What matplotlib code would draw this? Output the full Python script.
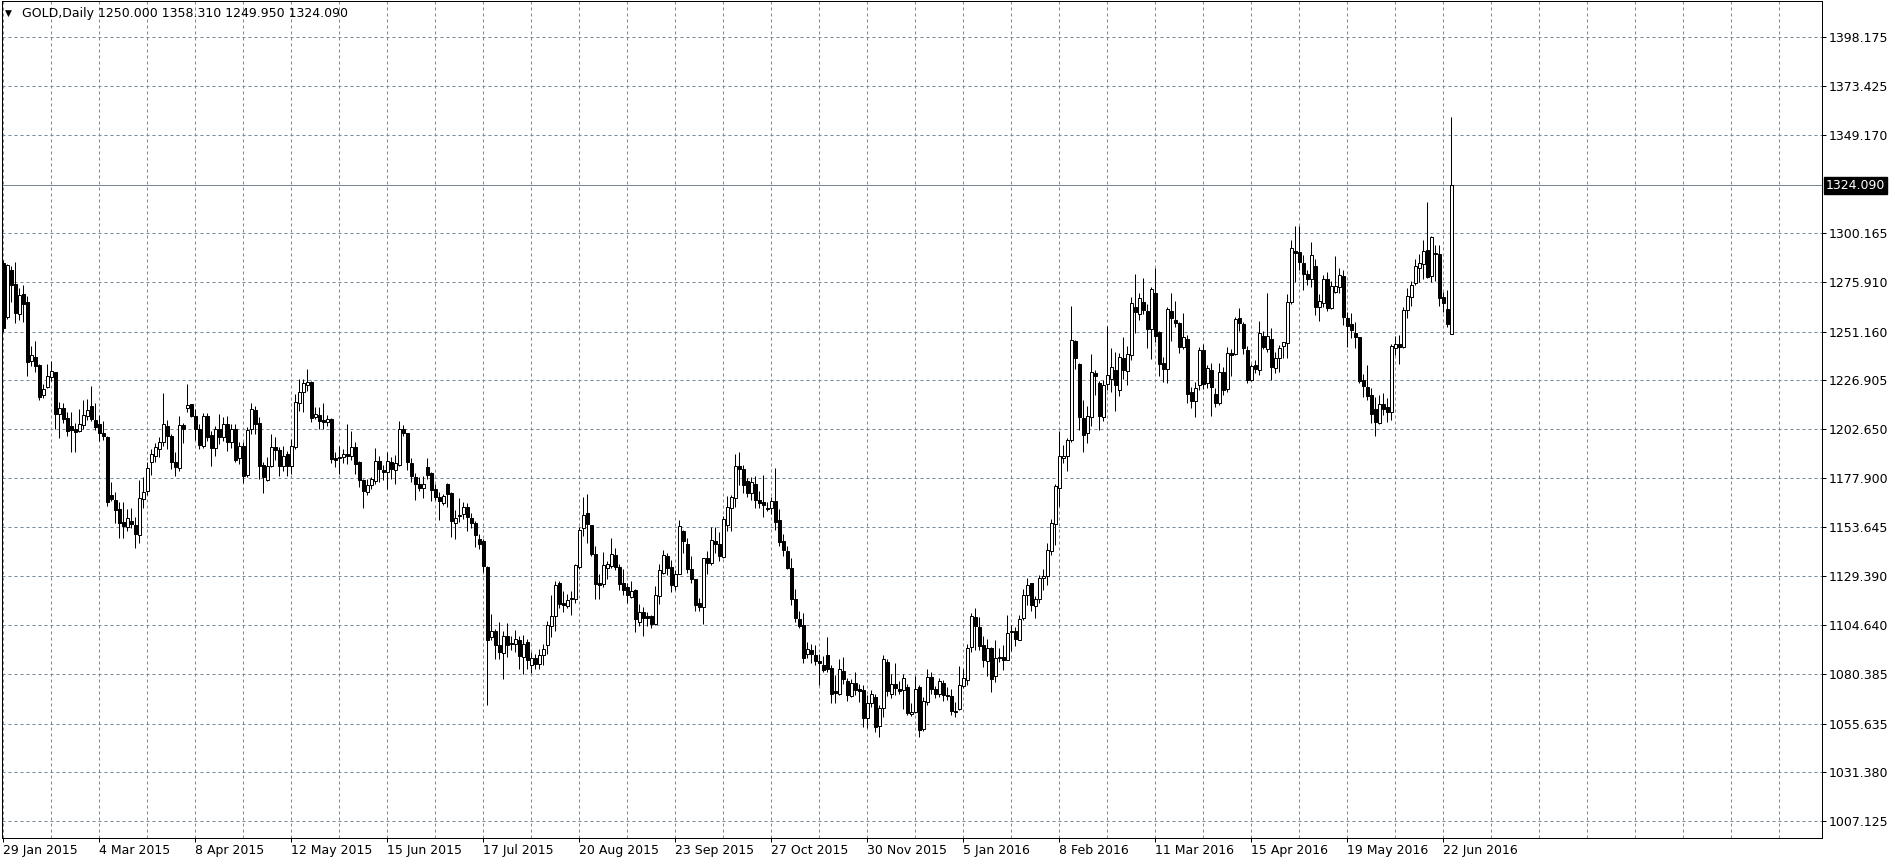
import numpy as np
import matplotlib
matplotlib.use('Agg')
import matplotlib.pyplot as plt

# daily GOLD candles, 29 Jan 2015 .. 24 Jun 2016
OPEN = [
    1285.6, 1258.6, 1282.0, 1275.1, 1260.1, 1270.0, 1266.0, 1236.6, 1238.3, 1234.7, 1219.3, 1223.4,
    1228.4, 1230.9, 1210.2, 1213.2, 1207.8, 1204.0, 1202.8, 1201.7, 1204.4, 1209.1, 1214.0, 1206.9,
    1204.8, 1200.8, 1198.4, 1169.8, 1167.0, 1162.4, 1156.0, 1153.8, 1156.8, 1154.8, 1149.7, 1167.5,
    1171.5, 1186.3, 1189.3, 1192.6, 1195.9, 1203.8, 1198.9, 1186.0, 1183.0, 1204.3, 1213.2, 1214.9,
    1208.8, 1202.8, 1194.2, 1209.1, 1199.5, 1192.9, 1202.5, 1198.7, 1204.8, 1196.2, 1202.8, 1187.9,
    1193.9, 1179.7, 1202.5, 1212.1, 1205.5, 1184.7, 1176.9, 1184.0, 1193.6, 1192.1, 1184.0, 1190.1,
    1184.0, 1193.4, 1215.7, 1221.0, 1224.3, 1225.8, 1208.3, 1209.4, 1207.1, 1205.8, 1207.4, 1188.1,
    1187.9, 1188.5, 1190.1, 1189.3, 1193.4, 1186.0, 1176.9, 1171.1, 1174.4, 1176.4, 1186.5, 1182.2,
    1181.0, 1186.3, 1181.9, 1184.8, 1202.5, 1200.7, 1185.8, 1178.4, 1175.1, 1173.1, 1183.8, 1180.5,
    1172.6, 1168.8, 1165.7, 1175.1, 1170.6, 1155.8, 1159.8, 1160.2, 1163.5, 1158.3, 1155.8, 1147.9,
    1146.5, 1133.9, 1098.7, 1101.7, 1094.9, 1090.9, 1099.2, 1095.9, 1095.4, 1097.4, 1088.8, 1096.2,
    1084.7, 1088.5, 1085.2, 1089.6, 1094.9, 1104.5, 1109.1, 1125.9, 1115.7, 1114.4, 1118.5, 1118.0,
    1133.9, 1153.2, 1160.9, 1154.8, 1140.4, 1125.9, 1125.1, 1133.3, 1134.2, 1139.9, 1133.7, 1125.6,
    1123.5, 1119.0, 1122.1, 1106.5, 1111.1, 1109.1, 1109.1, 1105.3, 1119.3, 1130.5, 1139.4, 1133.7,
    1124.3, 1130.4, 1151.5, 1145.4, 1132.5, 1127.6, 1115.7, 1113.6, 1138.0, 1135.5, 1146.5, 1145.4,
    1138.8, 1154.5, 1163.0, 1168.0, 1184.0, 1182.4, 1176.7, 1170.5, 1175.1, 1167.2, 1165.9, 1163.0,
    1163.0, 1166.7, 1157.3, 1146.9, 1141.9, 1133.4, 1118.0, 1107.8, 1104.8, 1090.4, 1092.4, 1089.9,
    1086.6, 1085.0, 1089.9, 1083.4, 1071.9, 1070.6, 1081.7, 1076.9, 1069.5, 1076.1, 1072.8, 1072.3,
    1058.3, 1065.7, 1069.0, 1054.6, 1063.6, 1086.3, 1070.6, 1075.6, 1072.8, 1072.3, 1073.9, 1060.4,
    1061.2, 1073.9, 1053.0, 1066.5, 1078.9, 1073.1, 1070.6, 1076.1, 1069.8, 1069.5, 1061.9, 1062.9,
    1074.4, 1077.2, 1093.8, 1108.8, 1103.8, 1094.9, 1086.7, 1093.3, 1079.2, 1088.9, 1088.8, 1087.2,
    1101.2, 1101.6, 1097.1, 1108.3, 1119.9, 1125.7, 1114.4, 1117.8, 1128.2, 1129.4, 1141.9, 1155.2,
    1173.1, 1188.1, 1189.3, 1196.9, 1246.6, 1235.2, 1208.1, 1200.6, 1208.6, 1230.5, 1225.5, 1208.6,
    1225.0, 1227.5, 1232.2, 1222.2, 1238.0, 1231.3, 1239.6, 1263.4, 1259.9, 1265.9, 1261.3, 1252.5,
    1270.2, 1251.1, 1235.6, 1232.3, 1261.4, 1256.9, 1255.3, 1243.6, 1247.4, 1221.2, 1216.5, 1224.5,
    1242.0, 1225.3, 1232.0, 1220.0, 1215.4, 1230.8, 1222.3, 1240.3, 1239.9, 1257.7, 1255.0, 1242.0,
    1227.0, 1234.5, 1232.0, 1248.9, 1242.3, 1247.3, 1232.8, 1237.8, 1243.9, 1245.3, 1265.7, 1291.3,
    1291.0, 1285.5, 1279.9, 1277.2, 1283.9, 1263.6, 1265.2, 1277.2, 1262.7, 1271.1, 1273.2, 1278.9,
    1257.8, 1254.8, 1250.3, 1248.3, 1226.8, 1223.5, 1219.5, 1212.5, 1205.4, 1214.9, 1213.4, 1210.9,
    1242.8, 1244.9, 1243.6, 1261.9, 1268.4, 1275.2, 1282.7, 1284.7, 1291.8, 1279.0, 1290.5, 1289.9,
    1268.4, 1262.4, 1250.0,
]
HIGH = [
    1287.0, 1285.0, 1283.7, 1286.0, 1272.9, 1274.6, 1268.8, 1244.0, 1246.5, 1235.0, 1225.0, 1235.0,
    1236.6, 1231.2, 1216.0, 1215.7, 1211.0, 1211.0, 1205.3, 1212.7, 1216.8, 1217.7, 1224.0, 1215.7,
    1209.7, 1206.4, 1198.9, 1176.1, 1171.1, 1165.9, 1165.9, 1162.4, 1162.9, 1158.8, 1177.2, 1178.6,
    1186.0, 1192.6, 1195.4, 1198.4, 1220.6, 1206.9, 1200.0, 1190.9, 1208.8, 1205.5, 1224.8, 1214.9,
    1212.7, 1205.0, 1210.7, 1210.7, 1201.7, 1203.8, 1210.2, 1208.3, 1209.1, 1205.0, 1205.0, 1195.9,
    1195.9, 1203.3, 1215.7, 1214.0, 1208.3, 1186.0, 1188.5, 1200.0, 1198.4, 1193.4, 1193.9, 1191.8,
    1197.5, 1219.8, 1227.6, 1227.6, 1232.5, 1226.4, 1213.7, 1213.7, 1215.4, 1209.4, 1207.8, 1191.3,
    1194.2, 1192.6, 1204.9, 1201.7, 1195.9, 1186.8, 1177.7, 1177.7, 1178.5, 1192.9, 1189.3, 1184.7,
    1191.3, 1188.4, 1189.6, 1206.6, 1204.5, 1200.7, 1188.3, 1180.5, 1178.4, 1178.9, 1188.3, 1181.2,
    1175.1, 1171.0, 1170.2, 1175.6, 1170.9, 1161.9, 1168.0, 1166.0, 1165.7, 1160.7, 1156.9, 1150.3,
    1147.9, 1134.2, 1110.3, 1102.8, 1106.1, 1102.0, 1105.8, 1099.2, 1102.5, 1099.2, 1099.8, 1097.9,
    1091.3, 1090.5, 1092.9, 1095.4, 1106.9, 1119.7, 1126.7, 1126.7, 1121.8, 1120.2, 1121.8, 1135.0,
    1153.6, 1168.5, 1170.1, 1154.8, 1144.1, 1130.0, 1141.1, 1136.6, 1148.2, 1143.2, 1135.0, 1132.5,
    1125.9, 1126.7, 1122.6, 1115.2, 1113.6, 1111.1, 1109.8, 1124.3, 1135.0, 1142.1, 1140.8, 1137.0,
    1132.0, 1157.0, 1152.3, 1148.2, 1139.1, 1127.9, 1118.5, 1138.3, 1141.6, 1153.6, 1153.6, 1151.0,
    1159.3, 1169.2, 1169.6, 1189.9, 1191.1, 1184.5, 1177.9, 1178.7, 1179.1, 1171.8, 1179.6, 1166.3,
    1168.8, 1182.9, 1162.5, 1150.3, 1144.1, 1138.3, 1122.9, 1111.9, 1110.7, 1096.2, 1095.4, 1094.6,
    1090.5, 1089.3, 1098.7, 1085.0, 1079.7, 1088.0, 1088.8, 1078.1, 1077.7, 1081.4, 1075.6, 1074.8,
    1069.8, 1072.3, 1070.6, 1064.9, 1089.6, 1088.0, 1080.1, 1086.0, 1076.8, 1080.5, 1075.6, 1065.7,
    1079.3, 1074.8, 1069.0, 1082.7, 1081.4, 1074.4, 1078.1, 1077.3, 1073.9, 1073.1, 1066.2, 1084.2,
    1083.0, 1095.5, 1110.8, 1113.3, 1108.8, 1099.5, 1097.8, 1093.8, 1097.5, 1093.3, 1095.0, 1109.9,
    1104.9, 1103.8, 1109.9, 1122.8, 1128.2, 1125.7, 1119.4, 1129.9, 1132.7, 1145.7, 1157.7, 1175.1,
    1201.4, 1194.8, 1198.1, 1263.8, 1247.1, 1235.5, 1217.2, 1214.2, 1240.2, 1232.2, 1226.3, 1227.2,
    1253.8, 1242.9, 1240.8, 1240.5, 1248.5, 1244.1, 1268.4, 1280.1, 1270.4, 1277.9, 1265.1, 1273.4,
    1282.7, 1251.4, 1238.6, 1263.6, 1270.6, 1266.6, 1256.1, 1260.2, 1249.4, 1223.7, 1226.0, 1243.3,
    1244.8, 1234.5, 1235.3, 1222.8, 1235.6, 1233.3, 1243.6, 1242.3, 1258.6, 1262.7, 1256.1, 1244.0,
    1234.8, 1237.0, 1256.6, 1251.6, 1270.6, 1252.8, 1241.1, 1244.4, 1246.1, 1269.9, 1296.8, 1303.8,
    1303.8, 1289.3, 1281.9, 1295.7, 1287.2, 1269.9, 1279.4, 1281.0, 1276.5, 1288.9, 1282.7, 1281.9,
    1260.8, 1260.3, 1255.8, 1248.6, 1229.8, 1234.5, 1223.2, 1218.7, 1219.5, 1220.4, 1217.9, 1244.8,
    1249.1, 1249.4, 1263.6, 1273.1, 1276.4, 1287.4, 1289.7, 1296.8, 1315.9, 1299.0, 1294.4, 1294.4,
    1271.1, 1271.9, 1358.31,
]
LOW = [
    1251.0, 1257.3, 1266.0, 1255.6, 1256.9, 1256.0, 1228.9, 1234.2, 1231.2, 1216.8, 1218.0, 1222.9,
    1226.7, 1202.8, 1197.9, 1205.3, 1199.2, 1191.0, 1190.9, 1201.2, 1202.8, 1206.9, 1206.4, 1201.9,
    1196.6, 1196.9, 1163.9, 1166.5, 1155.5, 1148.0, 1148.4, 1151.7, 1153.0, 1143.4, 1145.6, 1162.9,
    1169.5, 1179.4, 1186.0, 1188.5, 1194.2, 1192.6, 1182.4, 1178.9, 1181.4, 1195.4, 1211.0, 1208.3,
    1197.2, 1192.6, 1192.9, 1196.7, 1184.3, 1189.3, 1195.1, 1196.7, 1191.8, 1192.9, 1186.0, 1185.2,
    1175.6, 1178.6, 1200.0, 1200.0, 1177.4, 1170.6, 1176.4, 1183.5, 1187.1, 1178.9, 1181.4, 1178.9,
    1180.2, 1192.6, 1211.6, 1211.1, 1221.5, 1206.1, 1207.4, 1202.5, 1202.8, 1204.1, 1185.6, 1183.5,
    1180.2, 1185.6, 1185.1, 1187.3, 1180.2, 1173.6, 1163.2, 1169.5, 1172.8, 1175.2, 1176.1, 1176.9,
    1172.8, 1177.7, 1174.9, 1184.3, 1198.9, 1182.2, 1176.3, 1167.3, 1171.8, 1168.2, 1177.6, 1166.8,
    1167.3, 1157.4, 1164.7, 1163.5, 1148.7, 1147.5, 1156.4, 1157.8, 1151.5, 1153.1, 1143.7, 1142.6,
    1131.4, 1064.9, 1097.1, 1087.6, 1087.6, 1077.7, 1088.8, 1092.1, 1091.3, 1083.0, 1080.5, 1083.0,
    1081.0, 1083.0, 1083.0, 1084.7, 1090.5, 1098.7, 1102.0, 1113.5, 1111.1, 1113.1, 1109.8, 1116.0,
    1132.5, 1149.0, 1145.7, 1139.1, 1118.0, 1118.0, 1123.5, 1127.9, 1133.3, 1132.0, 1122.3, 1119.7,
    1116.0, 1118.5, 1101.5, 1104.1, 1099.2, 1104.1, 1103.2, 1104.8, 1115.5, 1130.0, 1129.6, 1121.3,
    1122.3, 1130.0, 1140.8, 1130.9, 1125.9, 1111.9, 1111.6, 1105.3, 1130.0, 1134.5, 1140.8, 1136.6,
    1138.3, 1151.5, 1151.5, 1163.4, 1174.6, 1170.8, 1168.5, 1167.2, 1163.0, 1163.0, 1158.9, 1161.4,
    1160.2, 1152.3, 1144.4, 1139.1, 1132.5, 1114.7, 1106.5, 1103.2, 1086.0, 1088.3, 1086.0, 1085.0,
    1074.8, 1081.4, 1081.4, 1065.7, 1065.7, 1069.8, 1075.6, 1066.9, 1069.0, 1069.8, 1066.5, 1053.7,
    1053.3, 1064.0, 1051.3, 1048.7, 1059.1, 1069.5, 1068.5, 1069.8, 1070.2, 1062.9, 1059.9, 1059.6,
    1060.7, 1048.7, 1051.7, 1064.9, 1070.2, 1068.5, 1069.0, 1066.9, 1067.3, 1059.9, 1059.1, 1062.4,
    1073.5, 1075.0, 1091.2, 1092.1, 1092.5, 1083.8, 1079.5, 1071.2, 1076.2, 1086.2, 1082.5, 1087.2,
    1091.6, 1094.1, 1097.1, 1107.1, 1114.9, 1111.6, 1108.3, 1115.8, 1122.4, 1124.9, 1139.9, 1144.9,
    1163.9, 1185.6, 1181.5, 1195.9, 1232.5, 1202.2, 1190.9, 1195.6, 1203.9, 1219.7, 1201.9, 1206.4,
    1221.9, 1220.9, 1211.4, 1219.2, 1227.5, 1224.7, 1237.2, 1250.5, 1256.8, 1260.0, 1243.0, 1237.5,
    1246.1, 1229.0, 1226.2, 1225.7, 1246.6, 1253.3, 1240.3, 1242.3, 1215.3, 1212.9, 1208.4, 1222.0,
    1222.3, 1222.8, 1209.0, 1213.4, 1214.5, 1219.5, 1221.2, 1229.0, 1239.5, 1251.6, 1240.0, 1225.3,
    1226.7, 1230.3, 1229.5, 1242.3, 1241.1, 1227.0, 1230.3, 1231.1, 1237.8, 1237.8, 1264.7, 1275.7,
    1281.9, 1271.9, 1274.4, 1273.2, 1259.4, 1256.6, 1263.2, 1261.6, 1262.2, 1270.6, 1270.2, 1254.4,
    1243.6, 1247.8, 1243.1, 1225.3, 1218.7, 1217.0, 1205.4, 1199.2, 1204.9, 1209.5, 1206.2, 1207.0,
    1239.5, 1234.8, 1242.8, 1257.8, 1264.1, 1274.4, 1276.1, 1277.4, 1277.7, 1276.1, 1276.4, 1264.1,
    1261.1, 1253.6, 1249.95,
]
CLOSE = [
    1253.1, 1284.5, 1274.3, 1260.6, 1269.6, 1265.0, 1235.8, 1239.4, 1233.8, 1218.5, 1222.6, 1229.2,
    1231.5, 1210.2, 1213.2, 1207.4, 1201.7, 1202.0, 1201.2, 1205.1, 1209.7, 1211.9, 1207.4, 1203.6,
    1200.8, 1199.2, 1165.9, 1167.5, 1162.0, 1155.8, 1154.3, 1158.4, 1155.1, 1150.2, 1168.3, 1171.1,
    1183.0, 1189.9, 1193.4, 1195.9, 1204.8, 1198.9, 1186.3, 1183.5, 1204.3, 1202.8, 1214.5, 1209.1,
    1202.8, 1194.7, 1208.8, 1198.7, 1192.9, 1202.6, 1198.7, 1204.8, 1196.2, 1202.8, 1187.3, 1193.9,
    1179.0, 1202.2, 1212.7, 1205.0, 1184.3, 1178.6, 1184.0, 1193.4, 1192.3, 1184.3, 1189.0, 1184.0,
    1193.9, 1216.0, 1221.0, 1225.3, 1225.8, 1207.8, 1209.8, 1206.6, 1205.8, 1207.4, 1187.6, 1187.3,
    1188.8, 1190.1, 1189.3, 1193.4, 1185.1, 1176.9, 1171.4, 1174.4, 1177.7, 1186.5, 1182.4, 1181.0,
    1186.5, 1182.4, 1185.5, 1202.5, 1200.5, 1186.1, 1178.9, 1175.1, 1172.9, 1175.1, 1179.5, 1172.3,
    1168.5, 1166.4, 1169.0, 1170.1, 1156.9, 1158.3, 1159.1, 1163.5, 1158.6, 1155.8, 1149.5, 1145.4,
    1134.2, 1097.1, 1101.7, 1094.6, 1091.3, 1099.2, 1094.6, 1095.1, 1097.9, 1089.3, 1095.4, 1087.1,
    1088.3, 1085.2, 1089.6, 1092.9, 1104.8, 1109.1, 1124.6, 1115.5, 1114.9, 1117.3, 1117.7, 1134.5,
    1152.3, 1159.8, 1155.1, 1140.4, 1125.1, 1124.8, 1134.5, 1135.0, 1140.3, 1133.9, 1125.4, 1122.3,
    1119.8, 1121.5, 1107.8, 1111.1, 1108.3, 1108.3, 1105.3, 1119.7, 1132.0, 1139.6, 1133.4, 1124.8,
    1130.4, 1154.0, 1146.6, 1132.5, 1127.6, 1114.9, 1114.0, 1138.0, 1135.8, 1147.4, 1145.2, 1139.1,
    1157.8, 1163.5, 1168.5, 1184.0, 1182.5, 1174.6, 1170.5, 1176.3, 1166.9, 1165.5, 1164.4, 1162.7,
    1166.7, 1156.0, 1146.1, 1142.1, 1133.2, 1118.0, 1108.1, 1104.1, 1088.3, 1092.6, 1090.1, 1086.8,
    1086.0, 1082.2, 1083.0, 1070.6, 1071.1, 1083.0, 1077.7, 1069.8, 1076.1, 1072.3, 1071.8, 1058.3,
    1065.7, 1070.2, 1054.1, 1063.2, 1087.6, 1071.8, 1075.6, 1073.5, 1071.8, 1078.1, 1060.7, 1061.6,
    1072.8, 1052.5, 1066.9, 1078.9, 1072.8, 1070.6, 1076.8, 1069.8, 1069.3, 1061.9, 1061.6, 1074.8,
    1078.1, 1093.3, 1109.1, 1104.1, 1094.2, 1087.2, 1093.3, 1077.9, 1088.3, 1088.5, 1087.2, 1100.8,
    1101.6, 1097.8, 1107.8, 1119.9, 1124.9, 1114.6, 1117.8, 1128.2, 1129.1, 1142.4, 1155.7, 1174.3,
    1188.9, 1189.3, 1197.3, 1247.1, 1238.0, 1208.6, 1199.7, 1208.9, 1231.0, 1228.9, 1208.9, 1224.7,
    1229.3, 1233.5, 1224.7, 1238.5, 1231.8, 1240.0, 1265.4, 1260.8, 1267.9, 1261.8, 1252.6, 1272.4,
    1248.9, 1235.0, 1232.3, 1262.2, 1257.8, 1255.3, 1243.3, 1248.3, 1219.8, 1216.7, 1223.2, 1242.0,
    1225.0, 1232.8, 1223.3, 1215.4, 1230.8, 1222.0, 1240.3, 1239.5, 1257.4, 1255.6, 1242.8, 1227.0,
    1234.0, 1232.3, 1250.3, 1243.6, 1248.9, 1233.3, 1237.8, 1242.8, 1245.9, 1265.7, 1292.7, 1290.5,
    1286.0, 1279.7, 1277.2, 1289.3, 1263.6, 1266.6, 1277.2, 1262.7, 1273.9, 1273.9, 1279.4, 1258.3,
    1254.1, 1251.9, 1248.6, 1226.5, 1224.2, 1219.2, 1209.9, 1206.2, 1214.9, 1212.5, 1210.9, 1243.9,
    1244.8, 1243.6, 1261.9, 1268.9, 1274.4, 1283.9, 1285.2, 1291.4, 1278.5, 1298.5, 1289.7, 1268.1,
    1265.6, 1254.8, 1324.09,
]

DATE_LABELS = ['29 Jan 2015', '4 Mar 2015', '8 Apr 2015', '12 May 2015', '15 Jun 2015',
               '17 Jul 2015', '20 Aug 2015', '23 Sep 2015', '27 Oct 2015', '30 Nov 2015',
               '5 Jan 2016', '8 Feb 2016', '11 Mar 2016', '15 Apr 2016', '19 May 2016',
               '22 Jun 2016']
BARS_PER_LABEL = 24
PRICE_TICKS = [1398.175, 1373.425, 1349.170, 1300.165, 1275.910, 1251.160, 1226.905,
               1202.650, 1177.900, 1153.645, 1129.390, 1104.640, 1080.385, 1055.635,
               1031.380, 1007.125]
LAST_PRICE = 1324.090
SYMBOL = 'GOLD,Daily'

W, H, DPI = 1898, 867, 100
PX = 72 / DPI           # one pixel in points
GRID_C = '#778899'

plt.rcParams['font.family'] = 'DejaVu Sans'
plt.rcParams['font.size'] = 9

fig = plt.figure(figsize=(W / DPI, H / DPI), dpi=DPI, facecolor='white')
# chart frame: x 2..1822 px, y 1..838 px (from top)
ax = fig.add_axes([2 / W, (H - 838) / H, 1820 / W, 837 / H])

o, h, l, c = (np.array(a, dtype=float) for a in (OPEN, HIGH, LOW, CLOSE))
x = np.arange(len(o))
up = c >= o

# grid (every 12 bars vertically, at price levels horizontally)
for p in PRICE_TICKS:
    ax.axhline(p, color=GRID_C, lw=PX, dashes=(3, 3), zorder=1)
for v in range(0, 456, 12):
    ax.axvline(v, color=GRID_C, lw=PX, dashes=(3, 3), zorder=1)

# candles
ax.vlines(x, l, h, color='black', lw=PX, zorder=3)
ax.bar(x, np.abs(c - o), bottom=np.minimum(o, c), width=0.55,
       color=np.where(up, 'white', 'black'), edgecolor='black', linewidth=PX, zorder=4)

# last price line + label
ax.axhline(LAST_PRICE, color=GRID_C, lw=PX, zorder=2)
ax.annotate(f'{LAST_PRICE:.3f}', xy=(1, LAST_PRICE), xycoords=('axes fraction', 'data'),
            xytext=(3, 0), textcoords='offset points', ha='left', va='center',
            color='white', fontsize=9, annotation_clip=False,
            bbox=dict(boxstyle='square,pad=0.15', fc='black', ec='black'))

ax.set_xlim(-0.375, 454.625)
ax.set_ylim(998.54, 1416.04)

ax.yaxis.tick_right()
ax.set_yticks(PRICE_TICKS, labels=[f'{p:.3f}' for p in PRICE_TICKS])
ax.set_xticks(np.arange(len(DATE_LABELS)) * BARS_PER_LABEL, labels=DATE_LABELS)
for t in ax.get_xticklabels():
    t.set_horizontalalignment('left')
ax.tick_params(axis='both', length=4 * PX, width=PX, color='black', labelsize=9)
ax.tick_params(axis='y', pad=3 * PX)
ax.tick_params(axis='x', pad=2 * PX)
for s in ax.spines.values():
    s.set_linewidth(PX)
    s.set_color('black')

# header
fig.text(5 / W, 1 - 13 / H, '\u25bc', fontsize=6.5, va='center', ha='left')
fig.text(22 / W, 1 - 13 / H,
         f'{SYMBOL} {o[-1]:.3f} {h[-1]:.3f} {l[-1]:.3f} {c[-1]:.3f}',
         fontsize=9, va='center', ha='left')

fig.savefig('out.png', dpi=DPI, facecolor='white')
